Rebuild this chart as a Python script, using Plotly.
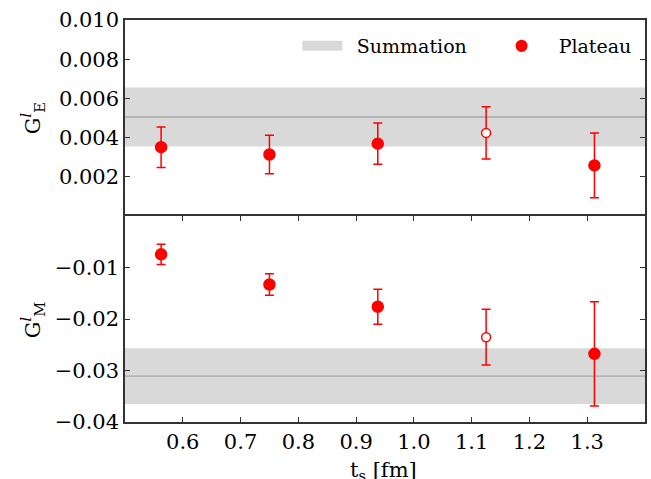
import plotly.graph_objects as go

# ---- data ----
ts = [0.5625, 0.75, 0.9375, 1.125, 1.3125]
GE_plateau = [0.00351, 0.00314, 0.00369, 0.00424, 0.00258]
GE_err = [0.00103, 0.00098, 0.00105, 0.00133, 0.00165]
GM_plateau = [-0.00745, -0.0133, -0.01763, -0.02353, -0.02677]
GM_err = [0.00195, 0.0021, 0.0034, 0.0054, 0.0101]
open_point = [False, False, False, True, False]

GE_sum = 0.00505
GE_sum_err = 0.00151
GM_sum = -0.0311
GM_sum_err = 0.0054

x_range = [0.5, 1.4]
xticks = [0.6, 0.7, 0.8, 0.9, 1.0, 1.1, 1.2, 1.3]
GE_ticks = [0.002, 0.004, 0.006, 0.008, 0.010]
GM_ticks = [-0.01, -0.02, -0.03, -0.04]

FONT = "DejaVu Serif"
RED = "#ff0000"
BAND = "#d9d9d9"
LINE = "#a9a9a9"
AX = "#333333"

fill_colors = ["white" if o else RED for o in open_point]
sizes = [9 if o else 11 for o in open_point]

fig = go.Figure()

def add_band(c, e, xa, ya):
    fig.add_trace(go.Scatter(
        x=[x_range[0], x_range[1], x_range[1], x_range[0], x_range[0]],
        y=[c - e, c - e, c + e, c + e, c - e],
        fill="toself", fillcolor=BAND, mode="lines", line=dict(width=0, color=BAND),
        showlegend=False, xaxis=xa, yaxis=ya, hoverinfo="skip"))
    fig.add_trace(go.Scatter(
        x=x_range, y=[c, c], mode="lines", line=dict(color=LINE, width=1.3),
        showlegend=False, xaxis=xa, yaxis=ya, hoverinfo="skip"))

add_band(GE_sum, GE_sum_err, "x2", "y2")
add_band(GM_sum, GM_sum_err, "x", "y")

# legend entry for the summation band (patch-like thick line)
fig.add_trace(go.Scatter(
    x=[None], y=[None], mode="lines", line=dict(color=BAND, width=13),
    name="\u2002Summation", showlegend=True, legend="legend",
    xaxis="x2", yaxis="y2", hoverinfo="skip"))

def add_points(vals, errs, xa, ya, legend):
    fig.add_trace(go.Scatter(
        x=ts, y=vals, mode="markers", name="\u00a0\u00a0Plateau", showlegend=legend,
        legend="legend2", xaxis=xa, yaxis=ya,
        marker=dict(color=fill_colors, size=sizes, opacity=1,
                    line=dict(color=RED, width=1.5)),
        error_y=dict(type="data", array=errs, visible=True, color=RED,
                     thickness=1.5, width=4.5)))

add_points(GE_plateau, GE_err, "x2", "y2", True)
add_points(GM_plateau, GM_err, "x", "y", False)

top_h = 20
div = 216
bot = 422
H = 479
W = 651
L = 125
R = 647
plot_h = bot - top_h
plot_w = R - L
split = (bot - div) / plot_h

axis_common = dict(showline=True, linecolor=AX, linewidth=1.5, mirror="ticks",
                   ticks="inside", ticklen=5, tickwidth=1, tickcolor=AX,
                   showgrid=False, zeroline=False,
                   tickfont=dict(family=FONT, size=21, color="black"))

leg_common = dict(orientation="h", xanchor="left", yanchor="middle",
                  y=(bot - 46) / plot_h, bgcolor="rgba(0,0,0,0)",
                  font=dict(family=FONT, size=19, color="black"), itemwidth=40)

fig.update_layout(
    width=W, height=H,
    margin=dict(l=L, r=W - R, t=top_h, b=H - bot),
    paper_bgcolor="white", plot_bgcolor="white",
    font=dict(family=FONT, size=20, color="black"),
    xaxis=dict(domain=[0, 1], anchor="y", range=x_range, tickvals=xticks,
               ticktext=[f"{v:.1f}" for v in xticks], **axis_common),
    yaxis=dict(domain=[0, split], anchor="x", range=[-0.04, 0], tickvals=GM_ticks,
               ticktext=[f"{v:.2f}".replace("-", "\u2212") for v in GM_ticks], **axis_common),
    xaxis2=dict(domain=[0, 1], anchor="y2", range=x_range, matches="x", side="top",
                showline=True, linecolor=AX, linewidth=1.5, mirror=False,
                ticks="", showticklabels=False, showgrid=False, zeroline=False),
    yaxis2=dict(domain=[split, 1], anchor="x2", range=[0, 0.010], tickvals=GE_ticks,
                ticktext=[f"{v:.3f}" for v in GE_ticks], **axis_common),
    legend=dict(x=(298 - L) / plot_w, **leg_common),
    legend2=dict(x=(498 - L) / plot_w, **leg_common),
    showlegend=True,
)

fig.add_annotation(text="G<sup><i>l</i></sup><sub>E</sub>", xref="paper", yref="paper",
                   x=(32 - L) / plot_w, y=(bot - 118) / plot_h, textangle=-90,
                   showarrow=False, font=dict(family=FONT, size=21, color="black"),
                   xanchor="center", yanchor="middle")
fig.add_annotation(text="G<sup><i>l</i></sup><sub>M</sub>", xref="paper", yref="paper",
                   x=(32 - L) / plot_w, y=(bot - 320) / plot_h, textangle=-90,
                   showarrow=False, font=dict(family=FONT, size=21, color="black"),
                   xanchor="center", yanchor="middle")
fig.add_annotation(text="t<sub>s</sub> [fm]", xref="paper", yref="paper",
                   x=(384 - L) / plot_w, y=(bot - 471) / plot_h,
                   showarrow=False, font=dict(family=FONT, size=21, color="black"),
                   xanchor="center", yanchor="middle")

fig.write_html("out.html", config={"displayModeBar": False},
               post_script="document.body.style.margin='0';document.body.style.overflow='hidden';")
